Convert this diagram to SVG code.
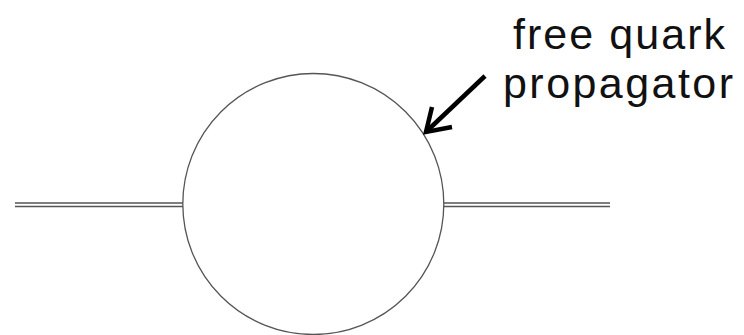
<svg xmlns="http://www.w3.org/2000/svg" width="744" height="335" viewBox="0 0 744 335">
<style>
.ln{stroke:#555;stroke-width:1.3;fill:none}
.lbl{font-family:"Liberation Sans",Arial,sans-serif;font-size:43px;fill:#111;text-anchor:middle}
.arr{stroke:#000;stroke-width:4.5;fill:none;stroke-linecap:butt}
</style>
<rect width="744" height="335" fill="#fff"/>
<g id="loop">
<circle cx="313.3" cy="204" r="130.5" class="ln"/>
</g>
<g id="connectors">
<line x1="15" y1="203" x2="183" y2="203" class="ln"/>
<line x1="15" y1="206.5" x2="183" y2="206.5" class="ln"/>
<line x1="444" y1="203" x2="610" y2="203" class="ln"/>
<line x1="444" y1="206.5" x2="610" y2="206.5" class="ln"/>
</g>
<g id="label">
<text x="619" y="49" class="lbl" textLength="212" lengthAdjust="spacing">free quark</text>
<text x="618" y="98" class="lbl" textLength="230" lengthAdjust="spacing">propagator</text>
<line x1="485" y1="76" x2="428" y2="130" class="arr"/>
<polyline points="432,107 426,132 452,127" class="arr" stroke-linejoin="miter"/>
</g>
</svg>
